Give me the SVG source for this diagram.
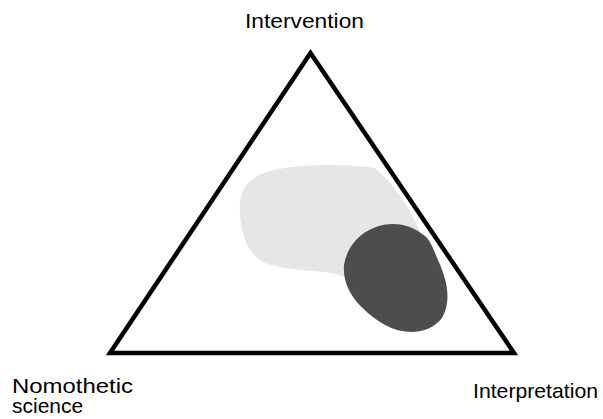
<svg xmlns="http://www.w3.org/2000/svg" width="603" height="419" viewBox="0 0 603 419">
<style>
text{font-family:"Liberation Sans",Arial,sans-serif;font-size:21px;fill:#000}
</style>
<rect width="603" height="419" fill="#fff"/>
<g id="regions">
<path id="light" d="M375,168 C350,164 300,163 270,171 C245,178 238,192 240,215 C242,240 250,255 265,263 C285,271 315,269 340,275 L348,278 L420,232 C410,208 395,185 375,168 Z" fill="#e6e6e6"/>
<path id="dark" d="M393,224 C370,224 348,240 344,265 C342,290 360,310 385,325 C405,336 430,334 442,318 C452,300 447,280 438,260 C433,248 430,240 425,236 C415,228 405,224 393,224 Z" fill="#4d4d4d"/>
</g>
<g id="triangle">
<path d="M310.5,53 L110,353 L514,353 Z" fill="none" stroke="#000" stroke-width="4.5" stroke-linejoin="miter"/>
</g>
<g id="labels">
<text id="intervention" x="245" y="27.5" textLength="119" lengthAdjust="spacingAndGlyphs">Intervention</text>
<text id="nomothetic" x="12" y="393" textLength="121" lengthAdjust="spacingAndGlyphs">Nomothetic</text>
<text id="science" x="12" y="413">science</text>
<text id="interpretation" x="473" y="397.5" textLength="125" lengthAdjust="spacingAndGlyphs">Interpretation</text>
</g>
</svg>
